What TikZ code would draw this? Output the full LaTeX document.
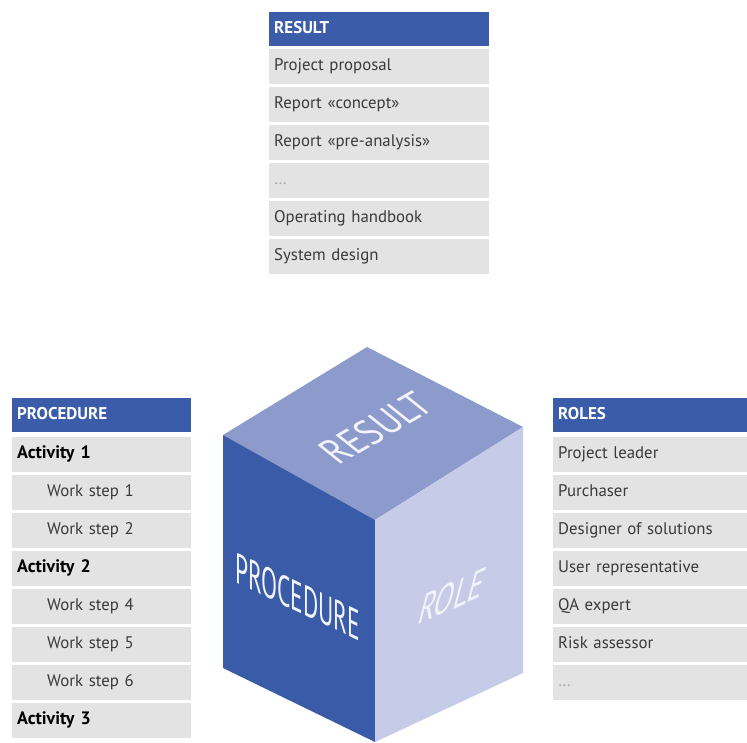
\documentclass[tikz,border=0pt]{standalone}
\usepackage{fontspec}
\setmainfont{PT Sans}
\definecolor{hdr}{HTML}{3B5CA9}
\definecolor{rowg}{HTML}{E3E3E3}
\definecolor{topf}{HTML}{8D9ACC}
\definecolor{leftf}{HTML}{3A5BA7}
\definecolor{rightf}{HTML}{C6CCE7}
\definecolor{txt}{HTML}{3A3A3A}
\definecolor{facetxt}{HTML}{F2F4FB}
\begin{document}
\begin{tikzpicture}[x=1pt,y=1pt,
  cell/.style={anchor=north west, inner xsep=5pt, inner ysep=0pt, minimum height=35pt,
    text height=12pt, text depth=4pt,
    align=left, font=\fontsize{16.8}{19}\selectfont, text=txt, fill=rowg},
  hcell/.style={cell, fill=hdr, text=white, minimum height=34pt,
    font=\fontsize{17}{19}\selectfont\bfseries},
  act/.style={cell, text=black, font=\fontsize{18}{20}\selectfont\bfseries},
  dots/.style={cell, text=gray!70},
  facetext/.style={anchor=base west, inner sep=0pt, text=facetxt,
    font=\fontsize{30}{30}\selectfont}
]
\useasboundingbox[fill=white] (0,0) rectangle (747,-742);

% RESULT table
\node[hcell, text width=210pt] (res-h) at (269,-12) {RESULT};
\node[cell, text width=210pt] (res-1) at (269,-49) {Project proposal};
\node[cell, text width=210pt] (res-2) at (269,-87) {Report «concept»};
\node[cell, text width=210pt] (res-3) at (269,-125) {Report «pre-analysis»};
\node[dots, text width=210pt] (res-4) at (269,-163) {…};
\node[cell, text width=210pt] (res-5) at (269,-201) {Operating handbook};
\node[cell, text width=210pt] (res-6) at (269,-239) {System design};

% PROCEDURE table
\node[hcell, text width=169pt] (pro-h) at (12,-398) {PROCEDURE};
\node[act, text width=169pt] (pro-1) at (12,-437) {Activity 1};
\node[cell, text width=169pt] (pro-2) at (12,-475) {\hspace*{30pt}Work step 1};
\node[cell, text width=169pt] (pro-3) at (12,-513) {\hspace*{30pt}Work step 2};
\node[act, text width=169pt] (pro-4) at (12,-551) {Activity 2};
\node[cell, text width=169pt] (pro-5) at (12,-589) {\hspace*{30pt}Work step 4};
\node[cell, text width=169pt] (pro-6) at (12,-627) {\hspace*{30pt}Work step 5};
\node[cell, text width=169pt] (pro-7) at (12,-665) {\hspace*{30pt}Work step 6};
\node[act, text width=169pt] (pro-8) at (12,-703) {Activity 3};

% ROLES table
\node[hcell, text width=184pt] (rol-h) at (553,-398) {ROLES};
\node[cell, text width=184pt] (rol-1) at (553,-437) {Project leader};
\node[cell, text width=184pt] (rol-2) at (553,-475) {Purchaser};
\node[cell, text width=184pt] (rol-3) at (553,-513) {Designer of solutions};
\node[cell, text width=184pt] (rol-4) at (553,-551) {User representative};
\node[cell, text width=184pt] (rol-5) at (553,-589) {QA expert};
\node[cell, text width=184pt] (rol-6) at (553,-627) {Risk assessor};
\node[dots, text width=184pt] (rol-7) at (553,-665) {…};

% Cube
\coordinate (cT) at (367,-347);
\coordinate (cL) at (223,-435);
\coordinate (cF) at (375,-520);
\coordinate (cR) at (523,-427);
\coordinate (cLB) at (223,-668);
\coordinate (cFB) at (375,-742);
\coordinate (cRB) at (523,-673);
\fill[topf] (cT) -- (cL) -- (cF) -- (cR) -- cycle;
\fill[leftf] (cL) -- (cF) -- (cFB) -- (cLB) -- cycle;
\fill[rightf] (cF) -- (cR) -- (cRB) -- (cFB) -- cycle;

\node[facetext, cm={0.78,-0.37,0,1.43,(0,0)}] (t-proc) at (235,-582) {PROCEDURE};
\node[facetext, cm={0.94,0.42,0.38,1.45,(0,0)}] (t-role) at (416,-626) {ROLE};
\node[facetext, cm={1.0,0.58,-1.1,0.88,(0,0)}] (t-res) at (338,-466) {RESULT};
\end{tikzpicture}
\end{document}
